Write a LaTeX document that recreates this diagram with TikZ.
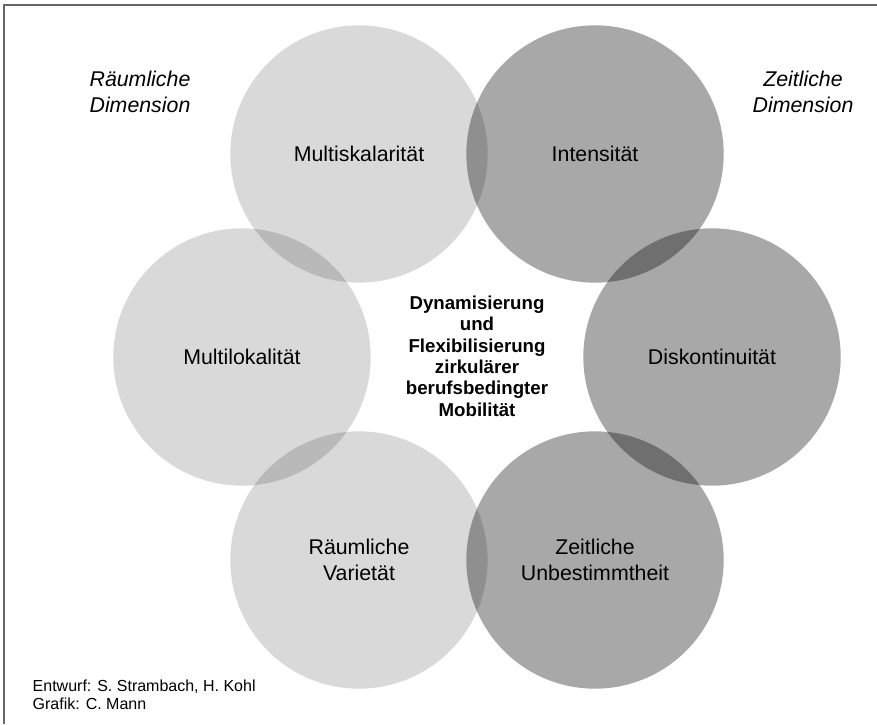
\documentclass[tikz,border=0pt]{standalone}
\usepackage{fontspec}
\setmainfont{Liberation Sans}
\usetikzlibrary{positioning}

\begin{document}
\begin{tikzpicture}[x=0.75pt, y=-0.75pt]
    \tikzstyle{hell} = [circle, fill=black, fill opacity=0.15, text opacity=1, minimum size=193pt, inner sep=0pt, align=center, font=\fontsize{16}{19}\selectfont]
    \tikzstyle{dunkel} = [circle, fill=black, fill opacity=0.34, text opacity=1, minimum size=193pt, inner sep=0pt, align=center, font=\fontsize{16}{19}\selectfont]
    \tikzstyle{dimension} = [align=center, font=\fontsize{16}{19}\selectfont\itshape]
    \tikzstyle{rahmen} = [draw=black!60, line width=1.1pt]

    \useasboundingbox (0,0) rectangle (877,724);
    \draw [rahmen] (4,724) -- (4,5) -- (877,5);

    % Raeumliche Dimension (hell)
    \node [hell] (mskal) at (359,154) {Multiskalarität};
    \node [hell] (mlokal) at (242,357) {Multilokalität};
    \node [hell] (rvar) at (359,560) {Räumliche\\Varietät};

    % Zeitliche Dimension (dunkel)
    \node [dunkel] (intens) at (595,154) {Intensität};
    \node [dunkel] (diskont) at (712,357) {Diskontinuität};
    \node [dunkel] (zunbest) at (595,560) {Zeitliche\\Unbestimmtheit};

    \node [align=center, font=\fontsize{14}{16}\selectfont\bfseries] (kern) at (477,356) {Dynamisierung\\und\\Flexibilisierung\\zirkulärer\\berufsbedingter\\Mobilität};

    \node [dimension] (rdim) at (140,92) {Räumliche\\Dimension};
    \node [dimension] (zdim) at (803,92) {Zeitliche\\Dimension};

    \node [anchor=west, align=left, font=\fontsize{12}{13.5}\selectfont] (quelle) at (28,695) {Entwurf: S. Strambach, H. Kohl\\Grafik: C. Mann};
\end{tikzpicture}
\end{document}
